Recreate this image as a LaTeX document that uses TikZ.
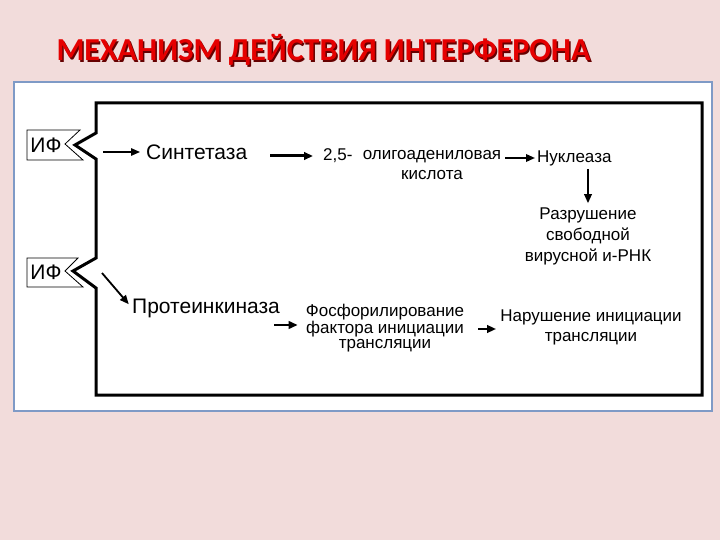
\documentclass[tikz,border=0pt]{standalone}
\usepackage{fontspec}
\setmainfont{Liberation Sans}
\newfontfamily\titlefont{Carlito}
\usetikzlibrary{arrows.meta}

\definecolor{slidebg}{HTML}{F2DCDB}
\definecolor{boxblue}{HTML}{7F9AC6}
\definecolor{titlered}{HTML}{E50000}

\begin{document}
\begin{tikzpicture}[x=1pt,y=-1pt,
	txt/.style={inner sep=0pt, align=center, font=\fontsize{17}{20}\selectfont},
	big/.style={inner sep=0pt, font=\fontsize{21}{21}\selectfont},
	arr/.style={-{Triangle[length=9pt,width=7.5pt]}, line width=1.8pt}]
	% фон слайда
	\useasboundingbox[fill=slidebg] (0,0) rectangle (720,540);
	
	% заголовок с тенью
	\node[font=\titlefont\bfseries\fontsize{32}{32}\selectfont, text=black!60!red] at (325,51.5) {МЕХАНИЗМ ДЕЙСТВИЯ ИНТЕРФЕРОНА};
	\node[font=\titlefont\bfseries\fontsize{32}{32}\selectfont, text=titlered] (title) at (323.5,50) {МЕХАНИЗМ ДЕЙСТВИЯ ИНТЕРФЕРОНА};
	
	% белое поле и рамка схемы
	\draw[boxblue, line width=2pt, fill=white] (14,82) rectangle (712,411);
	\draw[line width=3pt] (96,103) -- (702,103) -- (702,395) -- (96,395) -- (96,288) -- (73,271) -- (96,258) -- (96,159) -- (75,145) -- (96,133) -- cycle;
	
	% метки ИФ
	\draw[line width=0.8pt, fill=white] (27,130) -- (80,130) -- (65,144) -- (83,160) -- (27,160) -- cycle;
	\node[big] (if1) at (46,145) {ИФ};
	\draw[line width=0.8pt, fill=white] (27,258) -- (78,258) -- (65,271) -- (83,287) -- (27,287) -- cycle;
	\node[big] (if2) at (46,272) {ИФ};
	\coordinate (n1) at (103,152);
	\coordinate (n2) at (102,273);
	
	% верхняя ветвь
	\node[big, anchor=west] (sint) at (146,152) {Синтетаза};
	\node[txt, anchor=west] (olig25) at (323,156) {2,5-};
	\node[txt] (olig) at (432,165) {олигоаденилoвая\\кислота};
	\node[txt, anchor=west] (nucl) at (537,158) {Нуклеаза};
	\node[txt, font=\fontsize{17}{21}\selectfont] (razr) at (588,236) {Разрушение\\свободной\\вирусной и-РНК};
	
	% нижняя ветвь
	\node[big, anchor=west] (prot) at (132,308) {Протеинкиназа};
	\node[txt, font=\fontsize{17}{15.5}\selectfont] (fosf) at (385,328) {Фосфорилирование\\фактора инициации\\трансляции};
	\node[txt] (narush) at (591,327) {Нарушение инициации\\трансляции};
	
	% стрелки
	\draw[arr, line width=1.5pt] (n1) -- (sint.west) [shorten >=6pt];
	\draw[arr, line width=3pt] (sint.east |- olig25.west) -- (olig25.west) [shorten <=23pt, shorten >=10pt];
	\draw[arr] (olig.east |- nucl.west) -- (nucl.west) [shorten <=4pt, shorten >=2pt];
	\draw[arr] (nucl.south -| razr) -- (razr.north) [shorten <=3pt, shorten >=4pt];
	\draw[arr] (n2) -- (prot.west) [shorten >=5pt];
	\draw[arr, line width=2.4pt] ([yshift=3pt]fosf.west -| prot.east) -- ([yshift=3pt]fosf.west) [shorten <=-6pt, shorten >=8pt];
	\draw[arr, line width=2.4pt] ([yshift=-1pt]fosf.east) -- ([yshift=-1pt]fosf.east -| narush.west) [shorten <=14pt, shorten >=4pt];
\end{tikzpicture}
\end{document}
